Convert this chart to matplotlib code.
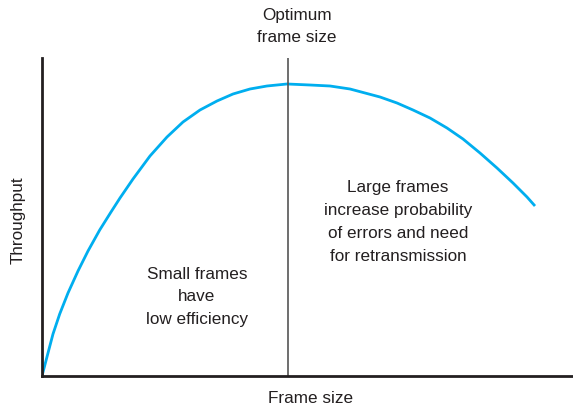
import numpy as np
import matplotlib.pyplot as plt

plt.rcParams['font.family'] = ['Liberation Sans', 'DejaVu Sans']

# curve (frame size vs throughput, arbitrary units)
frame_size = [0, 6, 11, 17.7, 26, 36, 46, 57.7, 69, 78, 91, 108, 125, 141, 158,
              175, 191, 208, 225, 245, 268, 288, 308, 338, 355, 371, 388, 405, 421,
              438, 455, 471, 485, 493]
throughput = [0, 23, 42, 62, 83, 105, 125, 146, 164, 178, 197, 220, 239, 254, 266,
              275, 282, 287, 290, 292, 291, 290, 287, 279, 273, 266, 258, 248, 237,
              223, 208, 193, 179, 170]
optimum = 246

fig = plt.figure(figsize=(5.73, 4.09), dpi=100)
ax = fig.add_axes([0.0733, 0.0807, 0.9267, 0.7775])

ax.plot(frame_size, throughput, color='#00aeef', lw=2, solid_capstyle='butt',
        solid_joinstyle='round')
ax.axvline(optimum, color='#555555', lw=1.2)

ax.set_xlim(0, 531)
ax.set_ylim(0, 318)
for s in ['top', 'right']:
    ax.spines[s].set_visible(False)
for s in ['left', 'bottom']:
    ax.spines[s].set_linewidth(2)
    ax.spines[s].set_color('#231f20')
ax.set_xticks([])
ax.set_yticks([])

fs = 12.3
col = '#231f20'
ls = 1.66
ax.text(255, 349.5, 'Optimum\nframe size', ha='center', va='center', fontsize=fs,
        color=col, linespacing=ls, clip_on=False)
ax.text(356, 154, 'Large frames\nincrease probability\nof errors and need\nfor retransmission',
        ha='center', va='center', fontsize=fs, color=col, linespacing=ls)
ax.text(155, 79, 'Small frames\nhave\nlow efficiency', ha='center', va='center',
        fontsize=fs, color=col, linespacing=ls)
ax.text(-24, 156, 'Throughput', rotation=90, ha='center', va='center', fontsize=fs,
        color=col, clip_on=False)
ax.text(269, -23, 'Frame size', ha='center', va='center', fontsize=fs, color=col,
        clip_on=False)

fig.savefig('out.png', dpi=100)
